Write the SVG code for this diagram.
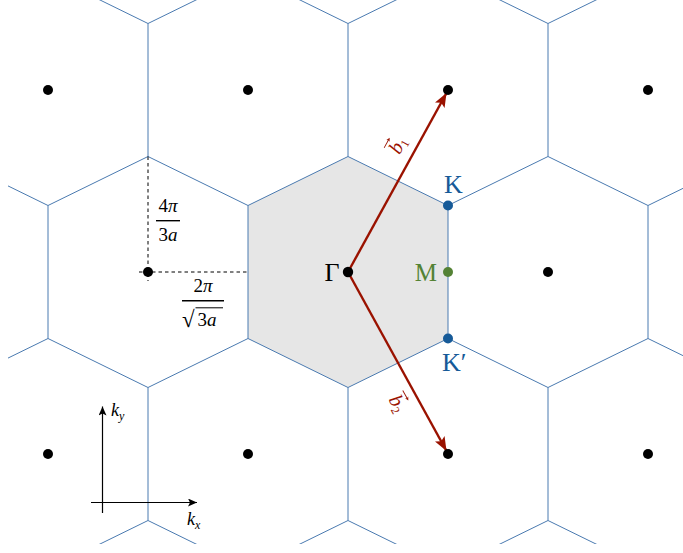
<svg xmlns="http://www.w3.org/2000/svg" width="683" height="553" viewBox="0 0 683 553">
<style>
.t{font-family:"Liberation Serif","Times New Roman",serif}
.it{font-style:italic}
.hex{fill:none;stroke:#4a7ab0;stroke-width:1}
.dot{fill:#000}
.dash{stroke:#000;stroke-width:1;stroke-dasharray:3.5 3;fill:none}
.red{stroke:#9a1200;stroke-width:2.4;fill:none}
.ax{stroke:#000;stroke-width:1.2;fill:none}
.bar{stroke:#000;stroke-width:1.4}
</style>
<defs>
<clipPath id="clip"><rect x="8" y="-1" width="690" height="545"/></clipPath>
<marker id="redHead" markerUnits="userSpaceOnUse" markerWidth="16" markerHeight="12" refX="14" refY="6" orient="auto">
<path d="M14,6 L0,0.5 L3,6 L0,11.5 z" fill="#9a1200"/>
</marker>
<marker id="axHead" markerUnits="userSpaceOnUse" markerWidth="10" markerHeight="8" refX="9" refY="4" orient="auto">
<path d="M9,4 L0,0 L2,4 L0,8 z" fill="#000"/>
</marker>
</defs>
<rect width="683" height="553" fill="#fff"/>
<g id="lattice" clip-path="url(#clip)">
<polygon points="348,156.5 448,205.5 448,338.5 348,387.5 248,338.5 248,205.5" fill="#e6e6e6"/>
<path class="hex" d="M-52,-207.5 L48,-158.5 L48,-25.5 L-52,23.5
M148,-207.5 L248,-158.5 L248,-25.5 L148,23.5
M348,-207.5 L448,-158.5 L448,-25.5 L348,23.5
M548,-207.5 L648,-158.5 L648,-25.5 L548,23.5
M748,-207.5 L848,-158.5 L848,-25.5 L748,23.5
M48,-25.5 L148,23.5 L148,156.5 L48,205.5
M248,-25.5 L348,23.5 L348,156.5 L248,205.5
M448,-25.5 L548,23.5 L548,156.5 L448,205.5
M648,-25.5 L748,23.5 L748,156.5 L648,205.5
M-52,156.5 L48,205.5 L48,338.5 L-52,387.5
M148,156.5 L248,205.5 L248,338.5 L148,387.5
M348,156.5 L448,205.5 L448,338.5 L348,387.5
M548,156.5 L648,205.5 L648,338.5 L548,387.5
M48,338.5 L148,387.5 L148,520.5 L48,569.5
M248,338.5 L348,387.5 L348,520.5 L248,569.5
M448,338.5 L548,387.5 L548,520.5 L448,569.5
M648,338.5 L748,387.5 L748,520.5 L648,569.5
M-52,520.5 L48,569.5
M148,520.5 L248,569.5
M348,520.5 L448,569.5
M548,520.5 L648,569.5"/>
</g>
<g id="connectors">
<line class="dash" x1="148" y1="156.5" x2="148" y2="281"/>
<line class="dash" x1="139" y1="272" x2="248" y2="272"/>
<line class="red" x1="348" y1="272" x2="446.5" y2="93" marker-end="url(#redHead)"/>
<line class="red" x1="348" y1="272" x2="446.5" y2="451" marker-end="url(#redHead)"/>
<line class="ax" x1="102.5" y1="513" x2="102.5" y2="406.5" marker-end="url(#axHead)"/>
<line class="ax" x1="91" y1="502.5" x2="197" y2="502.5" marker-end="url(#axHead)"/>
</g>
<g id="dots">
<circle class="dot" cx="48" cy="90" r="5"/>
<circle class="dot" cx="248" cy="90" r="5"/>
<circle class="dot" cx="448" cy="90" r="5"/>
<circle class="dot" cx="648" cy="90" r="5"/>
<circle class="dot" cx="148" cy="272" r="5"/>
<circle class="dot" cx="548" cy="272" r="5"/>
<circle class="dot" cx="48" cy="454" r="5"/>
<circle class="dot" cx="248" cy="454" r="5"/>
<circle class="dot" cx="448" cy="454" r="5"/>
<circle class="dot" cx="648" cy="454" r="5"/>
</g>
<g id="gamma">
<circle class="dot" cx="348" cy="272" r="5.2"/>
<text class="t" x="339.5" y="280.5" font-size="26" text-anchor="end" fill="#000">Γ</text>
</g>
<g id="K">
<circle cx="448" cy="205.5" r="5" fill="#165a98"/>
<text class="t" x="453.5" y="193" font-size="26" text-anchor="middle" fill="#165a98">K</text>
</g>
<g id="Kprime">
<circle cx="448" cy="338.5" r="5" fill="#165a98"/>
<text class="t" x="442" y="371" font-size="26" fill="#165a98">K′</text>
</g>
<g id="M">
<circle cx="448" cy="272" r="5" fill="#548235"/>
<text class="t" x="437" y="280.5" font-size="25" text-anchor="end" fill="#548235">M</text>
</g>
<g id="b1label" transform="translate(413,153.5) rotate(-61.2)" fill="#9a1200">
<text class="t" x="0" y="-11" font-size="20" text-anchor="middle"><tspan class="it">b</tspan><tspan font-size="12" dy="3">1</tspan></text>
<path d="M-9,-28 L0,-28" stroke="#9a1200" stroke-width="0.9"/>
<path d="M2.5,-28 L-1,-29.8 L-0.2,-28 L-1,-26.2 z"/>
</g>
<g id="b2label" transform="translate(415,394) rotate(61.2)" fill="#9a1200">
<text class="t" x="0" y="26" font-size="20" text-anchor="middle"><tspan class="it">b</tspan><tspan font-size="12" dy="3">2</tspan></text>
<path d="M-9,9 L0,9" stroke="#9a1200" stroke-width="0.9"/>
<path d="M2.5,9 L-1,7.2 L-0.2,9 L-1,10.8 z"/>
</g>
<g id="frac1">
<text class="t" x="168" y="212" font-size="19" text-anchor="middle">4<tspan class="it">π</tspan></text>
<line class="bar" x1="156" y1="220.7" x2="180" y2="220.7"/>
<text class="t it" x="168" y="240.5" font-size="19" text-anchor="middle"><tspan font-style="normal">3</tspan>a</text>
</g>
<g id="frac2">
<text class="t" x="203" y="292" font-size="19" text-anchor="middle">2<tspan class="it">π</tspan></text>
<line class="bar" x1="182" y1="300.7" x2="224" y2="300.7"/>
<text class="t" x="182" y="327" font-size="23">√</text>
<line x1="195.5" y1="307.8" x2="223" y2="307.8" stroke="#000" stroke-width="1"/>
<text class="t" x="197.5" y="325.5" font-size="19">3<tspan class="it">a</tspan></text>
</g>
<g id="axes-labels">
<text class="t it" x="111" y="416" font-size="18">k<tspan font-size="12" dy="4">y</tspan></text>
<text class="t it" x="187" y="524.5" font-size="18">k<tspan font-size="12" dy="4">x</tspan></text>
</g>
</svg>
